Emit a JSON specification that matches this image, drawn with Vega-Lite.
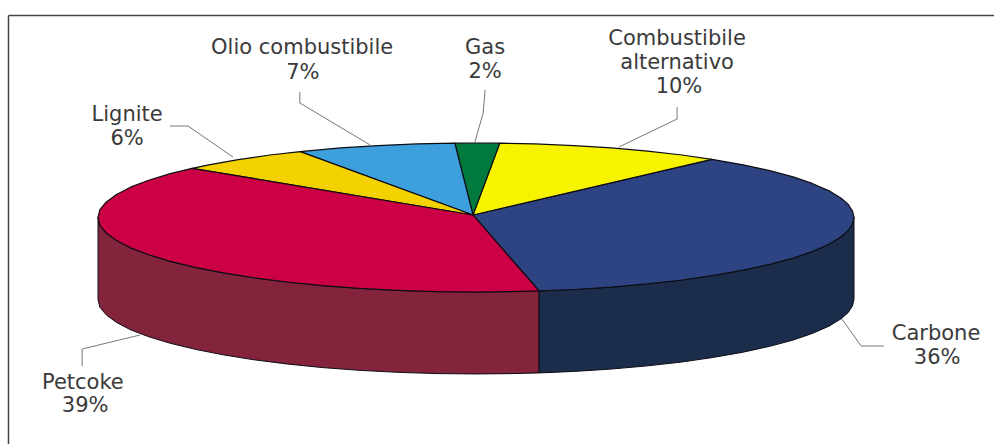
{
  "$schema": "https://vega.github.io/schema/vega-lite/v6.json",
  "width": 986,
  "height": 429,
  "autosize": {"type": "none"},
  "padding": {"left": 8, "top": 15, "right": 0, "bottom": 0},
  "background": "#ffffff",
  "view": {"stroke": null},
  "datasets": {
    "walls": [
      {"part":"Petcoke side","x":-1,"y":0,"y0":-1.1},
      {"part":"Petcoke side","x":-0.995,"y":-0.105,"y0":-1.205},
      {"part":"Petcoke side","x":-0.978,"y":-0.208,"y0":-1.308},
      {"part":"Petcoke side","x":-0.951,"y":-0.309,"y0":-1.409},
      {"part":"Petcoke side","x":-0.914,"y":-0.407,"y0":-1.507},
      {"part":"Petcoke side","x":-0.866,"y":-0.5,"y0":-1.6},
      {"part":"Petcoke side","x":-0.809,"y":-0.588,"y0":-1.688},
      {"part":"Petcoke side","x":-0.743,"y":-0.669,"y0":-1.769},
      {"part":"Petcoke side","x":-0.669,"y":-0.743,"y0":-1.843},
      {"part":"Petcoke side","x":-0.588,"y":-0.809,"y0":-1.909},
      {"part":"Petcoke side","x":-0.5,"y":-0.866,"y0":-1.966},
      {"part":"Petcoke side","x":-0.407,"y":-0.914,"y0":-2.014},
      {"part":"Petcoke side","x":-0.309,"y":-0.951,"y0":-2.051},
      {"part":"Petcoke side","x":-0.208,"y":-0.978,"y0":-2.078},
      {"part":"Petcoke side","x":-0.105,"y":-0.995,"y0":-2.095},
      {"part":"Petcoke side","x":0,"y":-1,"y0":-2.1},
      {"part":"Petcoke side","x":0.087,"y":-0.996,"y0":-2.096},
      {"part":"Petcoke side","x":0.167,"y":-0.986,"y0":-2.086},
      {"part":"Carbone side","x":0.167,"y":-0.986,"y0":-2.086},
      {"part":"Carbone side","x":0.259,"y":-0.966,"y0":-2.066},
      {"part":"Carbone side","x":0.358,"y":-0.934,"y0":-2.034},
      {"part":"Carbone side","x":0.454,"y":-0.891,"y0":-1.991},
      {"part":"Carbone side","x":0.545,"y":-0.839,"y0":-1.939},
      {"part":"Carbone side","x":0.629,"y":-0.777,"y0":-1.877},
      {"part":"Carbone side","x":0.707,"y":-0.707,"y0":-1.807},
      {"part":"Carbone side","x":0.777,"y":-0.629,"y0":-1.729},
      {"part":"Carbone side","x":0.839,"y":-0.545,"y0":-1.645},
      {"part":"Carbone side","x":0.891,"y":-0.454,"y0":-1.554},
      {"part":"Carbone side","x":0.934,"y":-0.358,"y0":-1.458},
      {"part":"Carbone side","x":0.966,"y":-0.259,"y0":-1.359},
      {"part":"Carbone side","x":0.985,"y":-0.174,"y0":-1.274},
      {"part":"Carbone side","x":0.996,"y":-0.087,"y0":-1.187},
      {"part":"Carbone side","x":1,"y":0,"y0":-1.1}
    ],
    "slices": [
      {"part":"Carbone","seq":0,"x":-0.008,"y":0.034},
      {"part":"Carbone","seq":1,"x":0.167,"y":-0.986},
      {"part":"Carbone","seq":2,"x":0.259,"y":-0.966},
      {"part":"Carbone","seq":3,"x":0.358,"y":-0.934},
      {"part":"Carbone","seq":4,"x":0.454,"y":-0.891},
      {"part":"Carbone","seq":5,"x":0.545,"y":-0.839},
      {"part":"Carbone","seq":6,"x":0.629,"y":-0.777},
      {"part":"Carbone","seq":7,"x":0.707,"y":-0.707},
      {"part":"Carbone","seq":8,"x":0.777,"y":-0.629},
      {"part":"Carbone","seq":9,"x":0.839,"y":-0.545},
      {"part":"Carbone","seq":10,"x":0.891,"y":-0.454},
      {"part":"Carbone","seq":11,"x":0.934,"y":-0.358},
      {"part":"Carbone","seq":12,"x":0.966,"y":-0.259},
      {"part":"Carbone","seq":13,"x":0.985,"y":-0.174},
      {"part":"Carbone","seq":14,"x":0.996,"y":-0.087},
      {"part":"Carbone","seq":15,"x":1,"y":0},
      {"part":"Carbone","seq":16,"x":0.996,"y":0.087},
      {"part":"Carbone","seq":17,"x":0.985,"y":0.174},
      {"part":"Carbone","seq":18,"x":0.966,"y":0.259},
      {"part":"Carbone","seq":19,"x":0.934,"y":0.358},
      {"part":"Carbone","seq":20,"x":0.891,"y":0.454},
      {"part":"Carbone","seq":21,"x":0.839,"y":0.545},
      {"part":"Carbone","seq":22,"x":0.777,"y":0.629},
      {"part":"Carbone","seq":23,"x":0.707,"y":0.707},
      {"part":"Carbone","seq":24,"x":0.624,"y":0.781},
      {"part":"Carbone","seq":25,"x":-0.008,"y":0.034},
      {"part":"Combustibile alternativo","seq":0,"x":-0.008,"y":0.034},
      {"part":"Combustibile alternativo","seq":1,"x":0.624,"y":0.781},
      {"part":"Combustibile alternativo","seq":2,"x":0.545,"y":0.839},
      {"part":"Combustibile alternativo","seq":3,"x":0.454,"y":0.891},
      {"part":"Combustibile alternativo","seq":4,"x":0.358,"y":0.934},
      {"part":"Combustibile alternativo","seq":5,"x":0.259,"y":0.966},
      {"part":"Combustibile alternativo","seq":6,"x":0.156,"y":0.988},
      {"part":"Combustibile alternativo","seq":7,"x":0.063,"y":0.998},
      {"part":"Combustibile alternativo","seq":8,"x":-0.008,"y":0.034},
      {"part":"Gas","seq":0,"x":-0.008,"y":0.034},
      {"part":"Gas","seq":1,"x":0.063,"y":0.998},
      {"part":"Gas","seq":2,"x":0,"y":1},
      {"part":"Gas","seq":3,"x":-0.056,"y":0.998},
      {"part":"Gas","seq":4,"x":-0.008,"y":0.034},
      {"part":"Olio combustibile","seq":0,"x":-0.008,"y":0.034},
      {"part":"Olio combustibile","seq":1,"x":-0.056,"y":0.998},
      {"part":"Olio combustibile","seq":2,"x":-0.156,"y":0.988},
      {"part":"Olio combustibile","seq":3,"x":-0.259,"y":0.966},
      {"part":"Olio combustibile","seq":4,"x":-0.358,"y":0.934},
      {"part":"Olio combustibile","seq":5,"x":-0.465,"y":0.885},
      {"part":"Olio combustibile","seq":6,"x":-0.008,"y":0.034},
      {"part":"Lignite","seq":0,"x":-0.008,"y":0.034},
      {"part":"Lignite","seq":1,"x":-0.465,"y":0.885},
      {"part":"Lignite","seq":2,"x":-0.545,"y":0.839},
      {"part":"Lignite","seq":3,"x":-0.629,"y":0.777},
      {"part":"Lignite","seq":4,"x":-0.707,"y":0.707},
      {"part":"Lignite","seq":5,"x":-0.751,"y":0.66},
      {"part":"Lignite","seq":6,"x":-0.008,"y":0.034},
      {"part":"Petcoke","seq":0,"x":-0.008,"y":0.034},
      {"part":"Petcoke","seq":1,"x":-0.751,"y":0.66},
      {"part":"Petcoke","seq":2,"x":-0.809,"y":0.588},
      {"part":"Petcoke","seq":3,"x":-0.866,"y":0.5},
      {"part":"Petcoke","seq":4,"x":-0.914,"y":0.407},
      {"part":"Petcoke","seq":5,"x":-0.951,"y":0.309},
      {"part":"Petcoke","seq":6,"x":-0.978,"y":0.208},
      {"part":"Petcoke","seq":7,"x":-0.995,"y":0.105},
      {"part":"Petcoke","seq":8,"x":-1,"y":0},
      {"part":"Petcoke","seq":9,"x":-0.995,"y":-0.105},
      {"part":"Petcoke","seq":10,"x":-0.978,"y":-0.208},
      {"part":"Petcoke","seq":11,"x":-0.951,"y":-0.309},
      {"part":"Petcoke","seq":12,"x":-0.914,"y":-0.407},
      {"part":"Petcoke","seq":13,"x":-0.866,"y":-0.5},
      {"part":"Petcoke","seq":14,"x":-0.809,"y":-0.588},
      {"part":"Petcoke","seq":15,"x":-0.743,"y":-0.669},
      {"part":"Petcoke","seq":16,"x":-0.669,"y":-0.743},
      {"part":"Petcoke","seq":17,"x":-0.588,"y":-0.809},
      {"part":"Petcoke","seq":18,"x":-0.5,"y":-0.866},
      {"part":"Petcoke","seq":19,"x":-0.407,"y":-0.914},
      {"part":"Petcoke","seq":20,"x":-0.309,"y":-0.951},
      {"part":"Petcoke","seq":21,"x":-0.208,"y":-0.978},
      {"part":"Petcoke","seq":22,"x":-0.105,"y":-0.995},
      {"part":"Petcoke","seq":23,"x":0,"y":-1},
      {"part":"Petcoke","seq":24,"x":0.087,"y":-0.996},
      {"part":"Petcoke","seq":25,"x":0.167,"y":-0.986},
      {"part":"Petcoke","seq":26,"x":-0.008,"y":0.034}
    ],
    "leaders": [
      {"part":"Olio combustibile","seq":0,"x":-0.466,"y":1.685},
      {"part":"Olio combustibile","seq":1,"x":-0.466,"y":1.537},
      {"part":"Olio combustibile","seq":2,"x":-0.28,"y":0.973},
      {"part":"Gas","seq":0,"x":0.024,"y":1.711},
      {"part":"Gas","seq":1,"x":0.019,"y":1.403},
      {"part":"Gas","seq":2,"x":-0.003,"y":1.013},
      {"part":"Combustibile alternativo","seq":0,"x":0.532,"y":1.483},
      {"part":"Combustibile alternativo","seq":1,"x":0.532,"y":1.322},
      {"part":"Combustibile alternativo","seq":2,"x":0.378,"y":0.946},
      {"part":"Lignite","seq":0,"x":-0.81,"y":1.228},
      {"part":"Lignite","seq":1,"x":-0.762,"y":1.228},
      {"part":"Lignite","seq":2,"x":-0.643,"y":0.812},
      {"part":"Petcoke","seq":0,"x":-1.042,"y":-1.993},
      {"part":"Petcoke","seq":1,"x":-1.042,"y":-1.765},
      {"part":"Petcoke","seq":2,"x":-0.889,"y":-1.577},
      {"part":"Carbone","seq":0,"x":1.079,"y":-1.725},
      {"part":"Carbone","seq":1,"x":1.019,"y":-1.725},
      {"part":"Carbone","seq":2,"x":0.968,"y":-1.362}
    ],
    "labels": [
      {"text":"Olio combustibile","x":-0.46,"y":2.275},
      {"text":"7%","x":-0.458,"y":1.94},
      {"text":"Gas","x":0.024,"y":2.275},
      {"text":"2%","x":0.024,"y":1.953},
      {"text":"Combustibile","x":0.532,"y":2.396},
      {"text":"alternativo","x":0.532,"y":2.074},
      {"text":"10%","x":0.537,"y":1.752},
      {"text":"Lignite","x":-0.923,"y":1.376},
      {"text":"6%","x":-0.923,"y":1.054},
      {"text":"Petcoke","x":-1.04,"y":-2.221},
      {"text":"39%","x":-1.034,"y":-2.53},
      {"text":"Carbone","x":1.217,"y":-1.564},
      {"text":"36%","x":1.22,"y":-1.886}
    ]
  },
  "encoding": {
    "x": {
      "field": "x",
      "type": "quantitative",
      "scale": {"domain": [-1.2381, 1.3704], "nice": false, "zero": false},
      "axis": {"orient": "top", "title": null, "ticks": false, "labels": false, "grid": false, "domain": true, "domainColor": "#444444", "domainWidth": 1.5}
    },
    "y": {
      "field": "y",
      "type": "quantitative",
      "scale": {"domain": [-3.04, 2.718], "nice": false, "zero": false},
      "axis": {"orient": "left", "title": null, "ticks": false, "labels": false, "grid": false, "domain": true, "domainColor": "#444444", "domainWidth": 1.5}
    }
  },
  "layer": [
    {
      "data": {"name": "walls"},
      "mark": {"type": "area", "stroke": "#0c0c14", "strokeWidth": 1},
      "encoding": {
        "y2": {"field": "y0"},
        "fill": {
          "field": "part",
          "type": "nominal",
          "scale": {
            "domain": ["Petcoke side", "Carbone side", "Carbone", "Combustibile alternativo", "Gas", "Olio combustibile", "Lignite", "Petcoke"],
            "range": ["#84243c", "#1b2d4a", "#2e4482", "#f8f400", "#007a3c", "#3d9fdc", "#f3d200", "#cc0044"]
          },
          "legend": null
        }
      }
    },
    {
      "data": {"name": "slices"},
      "mark": {"type": "line", "stroke": "#0c0c14", "strokeWidth": 1.2, "strokeJoin": "round"},
      "encoding": {
        "order": {"field": "seq", "type": "quantitative"},
        "fill": {
          "field": "part",
          "type": "nominal",
          "scale": {
            "domain": ["Petcoke side", "Carbone side", "Carbone", "Combustibile alternativo", "Gas", "Olio combustibile", "Lignite", "Petcoke"],
            "range": ["#84243c", "#1b2d4a", "#2e4482", "#f8f400", "#007a3c", "#3d9fdc", "#f3d200", "#cc0044"]
          },
          "legend": null
        }
      }
    },
    {
      "data": {"name": "leaders"},
      "mark": {"type": "line", "stroke": "#777777", "strokeWidth": 1},
      "encoding": {
        "order": {"field": "seq", "type": "quantitative"},
        "detail": {"field": "part", "type": "nominal"}
      }
    },
    {
      "data": {"name": "labels"},
      "mark": {"type": "text", "font": "DejaVu Sans", "fontSize": 21, "fill": "#3a3a3a", "align": "center", "baseline": "middle"},
      "encoding": {"text": {"field": "text", "type": "nominal"}}
    }
  ]
}
